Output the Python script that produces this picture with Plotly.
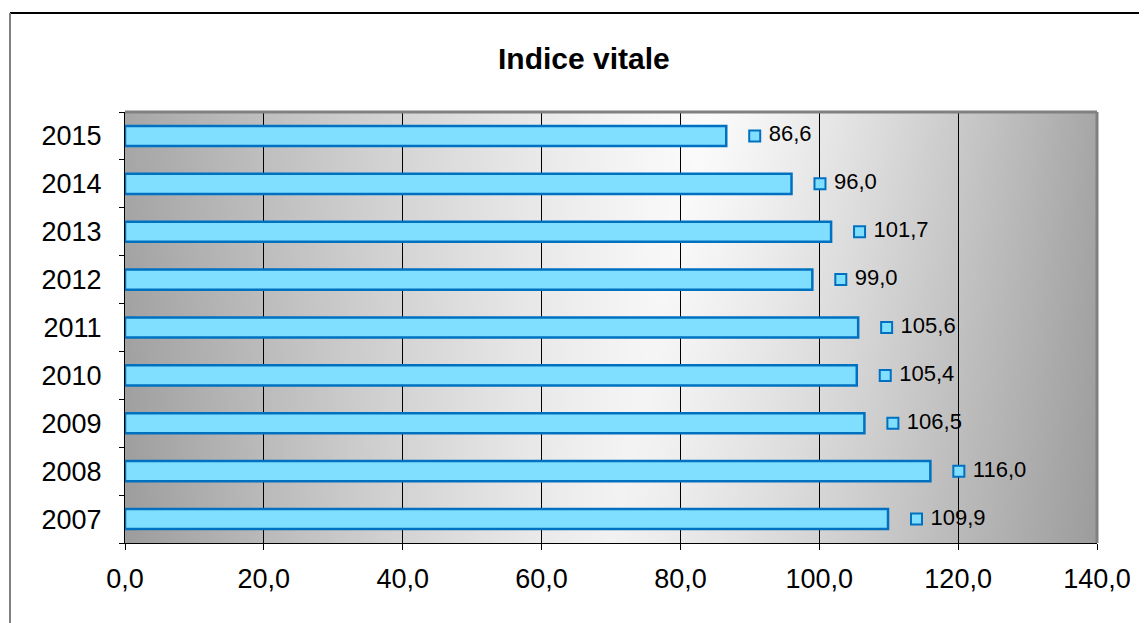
import base64, struct, zlib
import plotly.graph_objects as go

years = ["2007", "2008", "2009", "2010", "2011", "2012", "2013", "2014", "2015"]
values = [109.9, 116.0, 106.5, 105.4, 105.6, 99.0, 101.7, 96.0, 86.6]
x_ticks = [0, 20, 40, 60, 80, 100, 120, 140]
x_tick_text = ["0,0", "20,0", "40,0", "60,0", "80,0", "100,0", "120,0", "140,0"]
title_text = "Indice vitale"

BAR_FILL = "#80DFFF"
BAR_LINE = "#0070C0"

# ---- gradient background PNG (data URI) ----
def make_png(w, h, pix):
    raw = b""
    for row in pix:
        raw += b"\x00" + bytes(row)
    def chunk(t, d):
        c = struct.pack(">I", len(d)) + t + d
        return c + struct.pack(">I", zlib.crc32(t + d) & 0xffffffff)
    png = b"\x89PNG\r\n\x1a\n"
    png += chunk(b"IHDR", struct.pack(">IIBBBBB", w, h, 8, 0, 0, 0, 0))
    png += chunk(b"IDAT", zlib.compress(raw, 9))
    png += chunk(b"IEND", b"")
    return "data:image/png;base64," + base64.b64encode(png).decode()

W, H = 300, 80
pix = []
for j in range(H):
    v = j / (H - 1)
    c = 0.60 - 0.10 * v
    row = []
    for i in range(W):
        u = i / (W - 1)
        d = (c - u) / c if u < c else (u - c) / (1 - c)
        L = 0.985 - (0.985 - 0.655) * d ** 1.25 - 0.04 * v
        row.append(max(0, min(255, int(round(L * 255)))))
    pix.append(row)
bg_uri = make_png(W, H, pix)

PL, PT, PW, PH = 117, 104, 972, 431

fig = go.Figure()
fig.add_trace(go.Bar(
    y=years, x=values, orientation="h",
    marker=dict(color=BAR_FILL, line=dict(color=BAR_LINE, width=2.5)),
    showlegend=False, hoverinfo="skip",
))
fig.add_trace(go.Scatter(
    y=years, x=[v + 4.1 for v in values], mode="markers+text",
    marker=dict(symbol="square", size=11, color=BAR_FILL, line=dict(color=BAR_LINE, width=2)),
    text=[" " + f"{v:.1f}".replace(".", ",") for v in values],
    textposition="middle right",
    textfont=dict(family="Liberation Sans, Arial, sans-serif", size=22, color="black"),
    showlegend=False, hoverinfo="skip", cliponaxis=False,
))

frame_x = (10 - 125) / PW
frame_y = 1 + (112 - 13) / PH

fig.update_layout(
    width=1147, height=623,
    margin=dict(l=PL, r=1147 - PL - PW, t=PT, b=623 - PT - PH),
    paper_bgcolor="white", plot_bgcolor="rgba(0,0,0,0)",
    bargap=0.58,
    font=dict(family="Liberation Sans, Arial, sans-serif", color="black"),
    images=[dict(source=bg_uri, xref="paper", yref="paper", x=0, y=1, sizex=1, sizey=1,
                 sizing="stretch", layer="below", xanchor="left", yanchor="top")],
    annotations=[dict(text="<b>" + title_text + "</b>", xref="paper", yref="paper",
                      x=(584 - 125) / PW, y=1 + (112 - 59) / PH, xanchor="center", yanchor="middle",
                      showarrow=False, font=dict(size=30, color="black"))],
    shapes=[
        dict(type="line", xref="paper", yref="paper", x0=0, x1=1, y0=1, y1=1,
             line=dict(color="#808080", width=3)),
        dict(type="line", xref="paper", yref="paper", x0=1, x1=1, y0=0, y1=1,
             line=dict(color="#808080", width=3)),
        dict(type="line", xref="paper", yref="paper", x0=frame_x, x1=1.1,
             y0=frame_y, y1=frame_y, line=dict(color="black", width=2)),
        dict(type="line", xref="paper", yref="paper", x0=frame_x, x1=frame_x,
             y0=frame_y, y1=-0.3, line=dict(color="#808080", width=2)),
    ],
)
fig.update_xaxes(
    range=[0, 140], tickvals=x_ticks, ticktext=x_tick_text,
    showgrid=True, gridcolor="black", gridwidth=1,
    showline=True, linecolor="black", linewidth=1,
    ticks="outside", ticklen=6, tickcolor="black",
    tickfont=dict(size=27), ticklabelstandoff=6, zeroline=False, fixedrange=True,
)
fig.update_yaxes(
    type="category", categoryorder="array", categoryarray=years,
    range=[-0.5, len(years) - 0.5],
    showgrid=False, showline=True, linecolor="black", linewidth=1,
    ticks="outside", ticklen=5, tickcolor="black", tickson="boundaries",
    tickfont=dict(size=27), ticklabelstandoff=17, fixedrange=True,
)
fig.write_html("out.html")
